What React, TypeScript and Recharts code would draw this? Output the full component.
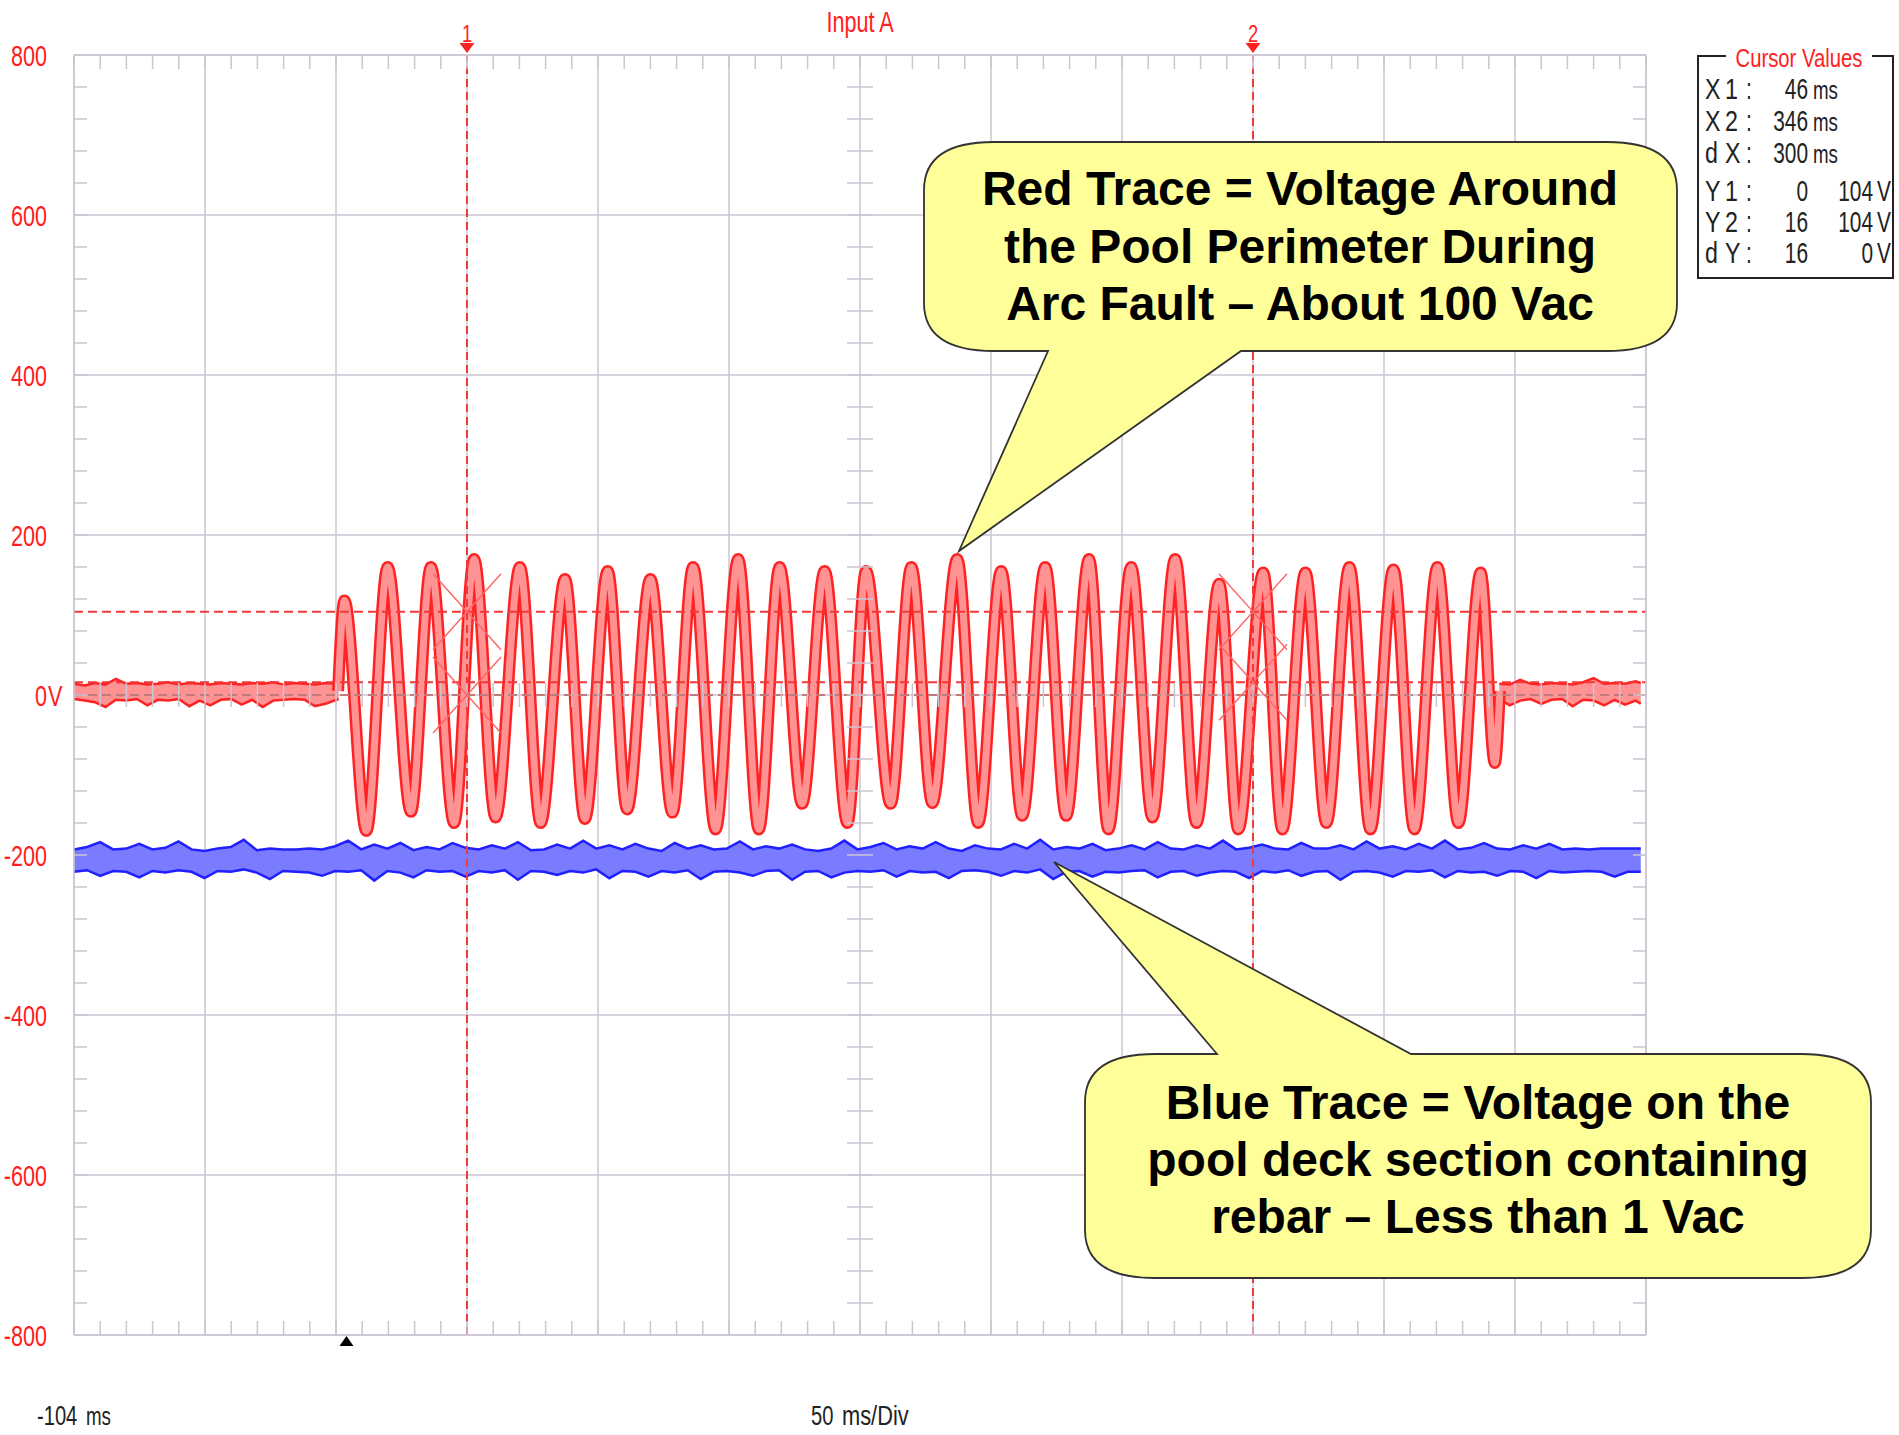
import React from 'react';
import {
  ComposedChart,
  Line,
  Area,
  XAxis,
  YAxis,
  CartesianGrid,
  ReferenceLine,
  ReferenceDot,
} from 'recharts';

const W = 1899;
const H = 1435;

const GRID = '#cdc5d3';
const RED = '#ff2222';
const PINK = '#ff9292';
const CURSOR = '#f03a3a';
const BLUE_EDGE = '#2020ff';
const BLUE_FILL = '#7b7bff';
const SANS = "'Liberation Sans', Arial, sans-serif";

// axis ranges (ms, volts)
const T_MIN = -104;
const T_MAX = 496;
const V_MIN = -800;
const V_MAX = 800;

const yLabels = [800, 600, 400, 200, 0, -200, -400, -600, -800];

// cursors
const cursorX = [46, 346];
const cursorY = [104, 16];
const cursorMarks = [
  { t: 46, v: 104 },
  { t: 46, v: 0 },
  { t: 346, v: 104 },
  { t: 346, v: 16 },
];
const triggerT = 0;

// red trace: oscillation during the arc fault (peaks / troughs)
const redWaveT = [
  -3.2, -0.8, 7.6, 15.7, 24.6, 32.2, 41.1, 48.7, 56.9, 66.2, 74.1, 83.4, 91.0, 99.7,
  107.1, 116.0, 124.4, 132.3, 140.9, 149.5, 157.4, 165.3, 173.9, 182.5, 191.2, 198.3,
  207.7, 215.6, 223.6, 233.1, 241.1, 249.9, 257.9, 266.7, 274.7, 283.4, 290.8, 299.5,
  307.6, 316.3, 324.4, 333.1, 340.4, 349.9, 357.2, 366.0, 374.0, 382.8, 390.8, 399.6,
  407.6, 416.4, 424.4, 432.9, 438.3, 440.2,
];
const redWaveV = [
  5, 118, -170, 160, -146, 160, -160, 170, -153, 160, -160, 145, -155, 155,
  -143, 145, -147, 160, -168, 170, -168, 160, -136, 155, -160, 155,
  -136, 160, -135, 170, -160, 155, -151, 160, -151, 170, -168, 160,
  -153, 170, -160, 139, -168, 153, -168, 153, -160, 160, -168, 157,
  -168, 160, -160, 153, -85, 5,
];

// red trace: noise band before the fault
const redPreT = [
  -104, -100, -96, -92, -88, -84, -80, -76, -72, -68, -64, -60, -56,
  -52, -48, -44, -40, -36, -32, -28, -24, -20, -16, -12, -8, -3,
];
const redPreHi = [14, 12, 15, 13, 20, 14, 15, 13, 14, 16, 13, 15, 14, 13, 15, 14, 13, 15, 14, 16, 13, 15, 14, 13, 15, 14];
const redPreLo = [-5, -7, -9, -15, -6, -7, -5, -13, -6, -7, -5, -14, -7, -13, -6, -5, -12, -6, -15, -7, -6, -5, -6, -14, -11, -5];

// red trace: noise band after the fault
const redPostT = [440, 444, 448, 452, 456, 460, 464, 468, 472, 476, 480, 484, 488, 492, 494];
const redPostHi = [14, 13, 19, 14, 13, 15, 14, 13, 16, 21, 14, 15, 14, 17, 15];
const redPostLo = [-5, -13, -7, -5, -11, -6, -5, -14, -6, -7, -13, -6, -12, -7, -11];

// blue trace: band edges, one sample every ~5 ms from -104 to 494 ms
const blueT0 = -104;
const blueStep = 598 / 120;
const blueHi = [
  -193, -190, -184, -193, -192, -186, -193, -191, -183, -193,
  -195, -192, -190, -181, -194, -192, -193, -193, -192, -193,
  -189, -182, -193, -187, -192, -185, -194, -190, -193, -185,
  -191, -193, -188, -192, -184, -194, -193, -187, -192, -182,
  -192, -188, -193, -186, -192, -195, -185, -192, -188, -193,
  -192, -183, -193, -189, -192, -187, -193, -195, -192, -182,
  -193, -190, -185, -193, -189, -192, -184, -192, -195, -188,
  -192, -193, -186, -192, -181, -193, -190, -192, -186, -194,
  -192, -188, -193, -184, -192, -193, -188, -192, -182, -193,
  -191, -187, -192, -193, -185, -192, -192, -188, -193, -183,
  -192, -189, -193, -186, -192, -182, -193, -191, -185, -192,
  -193, -188, -192, -186, -193, -192, -193, -192, -192, -192, -192,
];
const blueLo = [
  -221, -219, -226, -220, -221, -228, -220, -222, -219, -221,
  -229, -220, -221, -218, -222, -230, -220, -221, -222, -226,
  -220, -221, -219, -232, -220, -222, -228, -219, -221, -220,
  -227, -220, -222, -219, -231, -220, -221, -225, -220, -222,
  -218, -229, -220, -221, -227, -220, -222, -219, -230, -221,
  -220, -222, -226, -220, -219, -231, -221, -220, -228, -222,
  -220, -221, -219, -227, -220, -222, -221, -229, -220, -219,
  -221, -226, -220, -222, -218, -230, -221, -220, -227, -221,
  -222, -220, -219, -228, -221, -220, -226, -222, -220, -221,
  -229, -220, -222, -219, -226, -221, -220, -231, -221, -220,
  -222, -227, -220, -221, -219, -228, -220, -222, -221, -226,
  -220, -221, -229, -220, -222, -221, -220, -221, -227, -221, -221,
];

// cursor readout
const cursorXRows = [
  ['X', '1', '46', 'ms'],
  ['X', '2', '346', 'ms'],
  ['d', 'X', '300', 'ms'],
];
const cursorYRows = [
  ['Y', '1', '0', '104'],
  ['Y', '2', '16', '104'],
  ['d', 'Y', '16', '0'],
];

const bubble1Lines = ['Red Trace = Voltage Around', 'the Pool Perimeter During', 'Arc Fault – About 100 Vac'];
const bubble2Lines = ['Blue Trace = Voltage on the', 'pool deck section containing', 'rebar – Less than 1 Vac'];

const minorX = Array.from({ length: 61 }, (_, i) => T_MIN + i * 10);
const minorY = Array.from({ length: 41 }, (_, i) => V_MIN + i * 40);
const centerT = 196;

const waveData = redWaveT.map((t, i) => ({ t, v: redWaveV[i] }));
const preData = redPreT.map((t, i) => ({ t, range: [redPreLo[i], redPreHi[i]] }));
const postData = redPostT.map((t, i) => ({ t, range: [redPostLo[i], redPostHi[i]] }));
const blueData = blueHi.map((hi, i) => ({ t: blueT0 + i * blueStep, range: [blueLo[i], hi] }));

// condensed scope-style text (the screen font is much narrower than Arial)
function NText({ x, y, size = 28, fill = '#222', anchor = 'start', sx = 0.72, dy, children }: any) {
  return (
    <text
      transform={`translate(${x} ${y}) scale(${sx} 1)`}
      textAnchor={anchor}
      dy={dy}
      fontFamily={SANS}
      fontSize={size}
      fill={fill}
    >
      {children}
    </text>
  );
}

const NoTick = () => null;

function YLabel(props: any) {
  const { x, y, payload } = props;
  if (payload.value === 0) {
    return (
      <g>
        <NText x={x} y={y} dy="0.36em" anchor="end" size={30} fill="#ff2020">0</NText>
        <NText x={x + 1} y={y} dy="0.36em" size={30} fill="#ff2020">V</NText>
      </g>
    );
  }
  return (
    <NText x={x} y={y} dy="0.36em" anchor="end" size={30} fill="#ff2020">
      {payload.value}
    </NText>
  );
}

function CursorTag(props: any) {
  const vb = props.viewBox || {};
  const x = vb.x;
  const y = vb.y;
  if (x == null || y == null) return null;
  return (
    <g>
      <NText x={x} y={y - 13} anchor="middle" size={23} sx={0.8} fill={RED}>
        {props.n}
      </NText>
      <path d={`M${x - 7.5},${y - 12} L${x + 7.5},${y - 12} L${x},${y - 2} Z`} fill={RED} />
    </g>
  );
}

const HTick = (p: any) => (
  <line x1={p.cx - 13} x2={p.cx + 13} y1={p.cy} y2={p.cy} stroke={GRID} strokeWidth={1.5} />
);
const VTick = (p: any) => (
  <line x1={p.cx} x2={p.cx} y1={p.cy - 12} y2={p.cy + 12} stroke={GRID} strokeWidth={1.5} />
);
const XMark = (p: any) => (
  <g stroke="#ff6464" strokeWidth={1.4} fill="none">
    <line x1={p.cx - 34} y1={p.cy - 38} x2={p.cx + 34} y2={p.cy + 38} />
    <line x1={p.cx + 34} y1={p.cy - 38} x2={p.cx - 34} y2={p.cy + 38} />
  </g>
);
const TriggerMark = (p: any) => (
  <path d={`M${p.cx},${p.cy + 1} L${p.cx + 7},${p.cy + 11} L${p.cx - 7},${p.cy + 11} Z`} fill="#000" />
);

const bubble1 =
  'M994,142 L1607,142 Q1677,142 1677,190 L1677,303 Q1677,351 1607,351 L1241,351 L959,551 L1048,351 L994,351 Q924,351 924,303 L924,190 Q924,142 994,142 Z';
const bubble2 =
  'M1155,1054 L1217,1054 L1054,862 L1411,1054 L1801,1054 Q1871,1054 1871,1102 L1871,1230 Q1871,1278 1801,1278 L1155,1278 Q1085,1278 1085,1230 L1085,1102 Q1085,1054 1155,1054 Z';

const axisLine = { stroke: GRID, strokeWidth: 1.5 };

export default function App() {
  return (
    <div style={{ position: 'absolute', left: 0, top: 0, width: W, height: H, background: '#fff' }}>
      <ComposedChart width={W} height={H} margin={{ top: 55, right: 253, bottom: 100, left: 0 }}>
        <CartesianGrid
          xAxisId="bot"
          yAxisId="main"
          stroke={GRID}
          strokeWidth={1.5}
          verticalCoordinatesGenerator={({ offset }: any) =>
            Array.from({ length: 13 }, (_, i) => offset.left + (i * offset.width) / 12)
          }
          horizontalCoordinatesGenerator={({ offset }: any) =>
            Array.from({ length: 9 }, (_, i) => offset.top + (i * offset.height) / 8)
          }
        />
        <XAxis
          xAxisId="bot"
          dataKey="t"
          type="number"
          domain={[T_MIN, T_MAX]}
          allowDataOverflow
          orientation="bottom"
          mirror
          ticks={minorX}
          interval={0}
          tick={NoTick}
          tickSize={14}
          tickLine={axisLine}
          axisLine={axisLine}
        />
        <XAxis
          xAxisId="top"
          dataKey="t"
          type="number"
          domain={[T_MIN, T_MAX]}
          allowDataOverflow
          orientation="top"
          mirror
          ticks={minorX}
          interval={0}
          tick={NoTick}
          tickSize={14}
          tickLine={axisLine}
          axisLine={axisLine}
        />
        <YAxis
          yAxisId="lab"
          orientation="left"
          width={74}
          type="number"
          domain={[V_MIN, V_MAX]}
          allowDataOverflow
          ticks={yLabels}
          interval={0}
          tick={YLabel}
          tickSize={0}
          tickMargin={27}
          axisLine={false}
          tickLine={false}
        />
        <YAxis
          yAxisId="main"
          orientation="left"
          mirror
          type="number"
          domain={[V_MIN, V_MAX]}
          allowDataOverflow
          ticks={minorY}
          interval={0}
          tick={NoTick}
          tickSize={13}
          tickLine={axisLine}
          axisLine={axisLine}
        />
        <YAxis
          yAxisId="right"
          orientation="right"
          mirror
          type="number"
          domain={[V_MIN, V_MAX]}
          allowDataOverflow
          ticks={minorY}
          interval={0}
          tick={NoTick}
          tickSize={13}
          tickLine={axisLine}
          axisLine={axisLine}
        />

        {minorY.slice(1, -1).map((v) => (
          <ReferenceDot key={'hc' + v} xAxisId="bot" yAxisId="main" x={centerT} y={v} shape={HTick} />
        ))}
        {minorX.slice(1, -1).map((t) => (
          <ReferenceDot key={'vc' + t} xAxisId="bot" yAxisId="main" x={t} y={0} shape={VTick} />
        ))}

        <Area
          xAxisId="bot"
          yAxisId="main"
          data={blueData}
          dataKey="range"
          type="linear"
          stroke={BLUE_EDGE}
          strokeWidth={2.5}
          fill={BLUE_FILL}
          fillOpacity={1}
          isAnimationActive={false}
          dot={false}
          activeDot={false}
        />
        <Area
          xAxisId="bot"
          yAxisId="main"
          data={preData}
          dataKey="range"
          type="linear"
          stroke={RED}
          strokeWidth={2.5}
          fill={PINK}
          fillOpacity={1}
          isAnimationActive={false}
          dot={false}
          activeDot={false}
        />
        <Area
          xAxisId="bot"
          yAxisId="main"
          data={postData}
          dataKey="range"
          type="linear"
          stroke={RED}
          strokeWidth={2.5}
          fill={PINK}
          fillOpacity={1}
          isAnimationActive={false}
          dot={false}
          activeDot={false}
        />
        <Line
          xAxisId="bot"
          yAxisId="main"
          data={waveData}
          dataKey="v"
          type="monotone"
          stroke={RED}
          strokeWidth={12}
          strokeLinejoin="round"
          dot={false}
          activeDot={false}
          isAnimationActive={false}
        />
        <Line
          xAxisId="bot"
          yAxisId="main"
          data={waveData}
          dataKey="v"
          type="monotone"
          stroke={PINK}
          strokeWidth={7}
          strokeLinejoin="round"
          dot={false}
          activeDot={false}
          isAnimationActive={false}
        />

        {cursorY.map((v) => (
          <ReferenceLine
            key={'cy' + v}
            xAxisId="bot"
            yAxisId="main"
            y={v}
            stroke={CURSOR}
            strokeWidth={2}
            strokeDasharray="9 5"
          />
        ))}
        <ReferenceLine xAxisId="bot" yAxisId="main" y={0} stroke="#c27a7a" strokeWidth={2} strokeDasharray="9 5" />
        {cursorX.map((t, i) => (
          <ReferenceLine
            key={'cx' + t}
            xAxisId="bot"
            yAxisId="main"
            x={t}
            stroke={CURSOR}
            strokeWidth={2}
            strokeDasharray="8 5"
            label={<CursorTag n={String(i + 1)} />}
          />
        ))}
        {cursorMarks.map((m, i) => (
          <ReferenceDot key={'xm' + i} xAxisId="bot" yAxisId="main" x={m.t} y={m.v} shape={XMark} />
        ))}
        <ReferenceDot xAxisId="bot" yAxisId="main" x={triggerT} y={V_MIN} shape={TriggerMark} />
      </ComposedChart>

      <svg width={W} height={H} style={{ position: 'absolute', left: 0, top: 0, pointerEvents: 'none' }}>
        <NText x={860} y={32} anchor="middle" size={30} fill="#ff2020">Input A</NText>

        {/* cursor readout box */}
        <rect x={1698} y={56} width={195} height={222} fill="#fff" stroke="#222" strokeWidth={2} />
        <rect x={1726} y={44} width={146} height={24} fill="#fff" />
        <NText x={1799} y={67} anchor="middle" size={26} sx={0.78} fill="#ff2020">Cursor Values</NText>
        {cursorXRows.map((r, i) => {
          const y = [99, 131, 163][i];
          return (
            <g key={r[0] + r[1]}>
              <NText x={1705} y={y} size={29} sx={0.8}>{r[0]}</NText>
              <NText x={1725} y={y} size={29} sx={0.8}>{r[1]}</NText>
              <NText x={1746} y={y} size={29}>:</NText>
              <NText x={1808} y={y} size={29} anchor="end">{r[2]}</NText>
              <NText x={1813} y={y} size={26}>{r[3]}</NText>
            </g>
          );
        })}
        {cursorYRows.map((r, i) => {
          const y = [201, 232, 263][i];
          return (
            <g key={r[0] + r[1]}>
              <NText x={1705} y={y} size={29} sx={0.8}>{r[0]}</NText>
              <NText x={1725} y={y} size={29} sx={0.8}>{r[1]}</NText>
              <NText x={1746} y={y} size={29}>:</NText>
              <NText x={1808} y={y} size={29} anchor="end">{r[2]}</NText>
              <NText x={1873} y={y} size={29} anchor="end">{r[3]}</NText>
              <NText x={1877} y={y} size={29}>V</NText>
            </g>
          );
        })}

        {/* callouts */}
        <path d={bubble1} fill="#ffff99" stroke="#333" strokeWidth={1.8} />
        {bubble1Lines.map((s, i) => (
          <text key={s} x={1300} y={205 + i * 57.5} textAnchor="middle" fontFamily={SANS} fontWeight="bold" fontSize={48} fill="#000">
            {s}
          </text>
        ))}
        <path d={bubble2} fill="#ffff99" stroke="#333" strokeWidth={1.8} />
        {bubble2Lines.map((s, i) => (
          <text key={s} x={1478} y={1119 + i * 57} textAnchor="middle" fontFamily={SANS} fontWeight="bold" fontSize={48} fill="#000">
            {s}
          </text>
        ))}

        <NText x={37} y={1425} size={28}>-104</NText>
        <NText x={86} y={1425} size={26}>ms</NText>
        <NText x={811} y={1425} size={28}>50</NText>
        <NText x={842} y={1425} size={28} sx={0.78}>ms/Div</NText>
      </svg>
    </div>
  );
}
